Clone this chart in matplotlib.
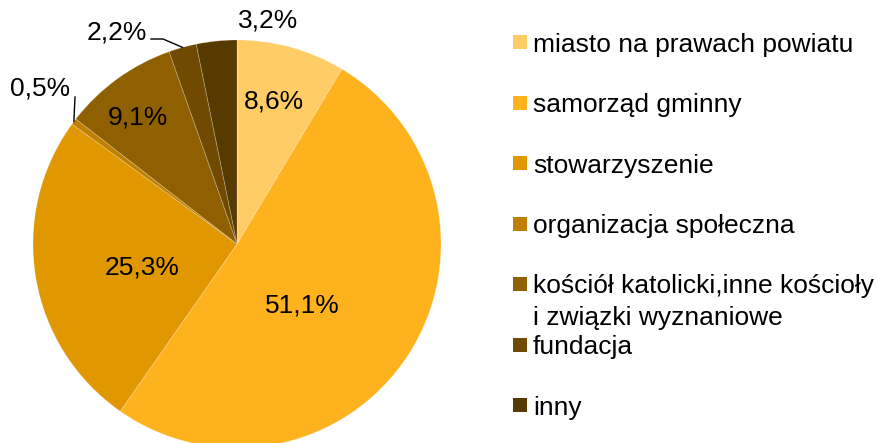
import numpy as np
import matplotlib.pyplot as plt
from matplotlib.patches import Rectangle

plt.rcParams["font.family"] = ["Liberation Sans", "DejaVu Sans"]

categories = [
    "miasto na prawach powiatu",
    "samorząd gminny",
    "stowarzyszenie",
    "organizacja społeczna",
    "kościół katolicki,inne kościoły\ni związki wyznaniowe",
    "fundacja",
    "inny",
]
shares = [8.6, 51.1, 25.3, 0.5, 9.1, 2.2, 3.2]
share_labels = ["8,6%", "51,1%", "25,3%", "0,5%", "9,1%", "2,2%", "3,2%"]
colors = ["#FFCC66", "#FEB21E", "#E09700", "#BF8000", "#8F6000", "#6F4A00", "#573A00"]

W, H = 877, 443
FS = 19

fig = plt.figure(figsize=(W / 100, H / 100), dpi=100)
ax = fig.add_axes([0, 0, 1, 1])

cx, cy, r = 237, H - 244, 204
wedges, _ = ax.pie(
    shares,
    colors=colors,
    startangle=90,
    counterclock=False,
    center=(cx, cy),
    radius=r,
    wedgeprops=dict(edgecolor=(1, 1, 1, 0.25), linewidth=0.6),
    frame=True,
)
ax.set_xlim(0, W)
ax.set_ylim(0, H)
ax.set_aspect("equal")
ax.axis("off")

# label anchor positions (pixels from top-left), Excel style placement
label_pos = [(274, 101), (302, 305), (142, 268), (40, 88), (138, 117), (117, 32), (268, 20)]
for txt, (px, py) in zip(share_labels, label_pos):
    ax.text(px, H - py, txt, ha="center", va="center", fontsize=FS, color="black")


def edge_point(w):
    mid = np.deg2rad((w.theta1 + w.theta2) / 2)
    return cx + r * np.cos(mid), cy + r * np.sin(mid)


# leader lines for the small slices
ex, ey = edge_point(wedges[3])
ax.plot([75, ex], [H - 97, ey], color="black", lw=1)
ex, ey = edge_point(wedges[5])
ax.plot([151, 163, ex], [H - 39, H - 39, ey], color="black", lw=1)

# legend
row0, step = 42, 60.5
for i, (name, col) in enumerate(zip(categories, colors)):
    y = H - (row0 + i * step)
    ax.add_patch(Rectangle((513, y - 7), 14, 14, facecolor=col, edgecolor="none"))
    for j, line in enumerate(name.split("\n")):
        ax.text(533, y - j * 31, line, ha="left", va="center_baseline",
                fontsize=FS, color="black")

fig.savefig("out.png", dpi=100)
